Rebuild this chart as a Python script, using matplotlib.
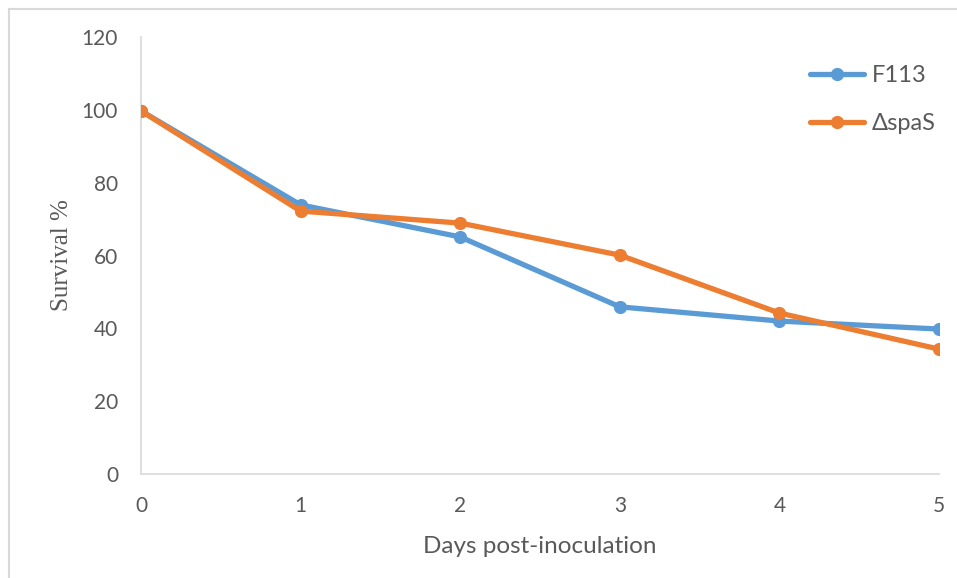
import matplotlib
matplotlib.use("Agg")
import matplotlib.pyplot as plt
from matplotlib.lines import Line2D

days = [0, 1, 2, 3, 4, 5]
f113 = [99.7, 73.9, 65.1, 45.9, 42.0, 39.8]
spas = [99.7, 72.2, 68.9, 60.1, 44.2, 34.3]
series_labels = ["F113", "\u0394spaS"]
y_ticks = [0, 20, 40, 60, 80, 100, 120]

W, H = 957, 578
fig = plt.figure(figsize=(W / 100, H / 100), dpi=100)
ax = fig.add_axes([141 / W, 104 / H, (939 - 141) / W, (474 - 37) / H])

blue = "#5B9BD5"
orange = "#ED7D31"
tick_font = "Lato"
grey_txt = "#595959"

ax.plot(days, f113, color=blue, lw=3.8, marker="o", ms=8.5,
        solid_capstyle="round", label=series_labels[0], zorder=3)
ax.plot(days, spas, color=orange, lw=3.8, marker="o", ms=8.5,
        solid_capstyle="round", label=series_labels[1], zorder=4)

ax.set_xlim(0, 5)
ax.set_ylim(0, 120)
ax.set_xticks(days)
ax.set_yticks(y_ticks)
for s in ["top", "right"]:
    ax.spines[s].set_visible(False)
for s in ["left", "bottom"]:
    ax.spines[s].set_color("#D9D9D9")
    ax.spines[s].set_linewidth(1.2)
ax.tick_params(length=0, labelsize=15, labelcolor=grey_txt)
ax.tick_params(axis="y", pad=16.5)
ax.tick_params(axis="x", pad=15.5)
for lab in ax.get_xticklabels() + ax.get_yticklabels():
    lab.set_fontfamily(tick_font)

ax.set_xlabel("Days post-inoculation", fontsize=17.5, family=tick_font,
              color=grey_txt, labelpad=15)
ax.set_ylabel("Survival %", fontsize=18, family="Liberation Serif",
              color=grey_txt, labelpad=6)

ax.legend(loc="upper left", bbox_to_anchor=(810 / W, 1 - 65 / H),
          bbox_transform=fig.transFigure, frameon=False,
          prop={"family": tick_font, "size": 17}, labelcolor=grey_txt,
          handlelength=2.3, handletextpad=0.3, labelspacing=1.15,
          borderpad=0, borderaxespad=0)

# thin outer frame
frame_kw = dict(color="#D9D9D9", lw=1.5, transform=fig.transFigure)
fig.add_artist(Line2D([8.5 / W, 8.5 / W], [0, 1 - 8.5 / H], **frame_kw))
fig.add_artist(Line2D([8.5 / W, 1], [1 - 8.5 / H, 1 - 8.5 / H], **frame_kw))

fig.savefig("out.png", dpi=100, facecolor="white")
